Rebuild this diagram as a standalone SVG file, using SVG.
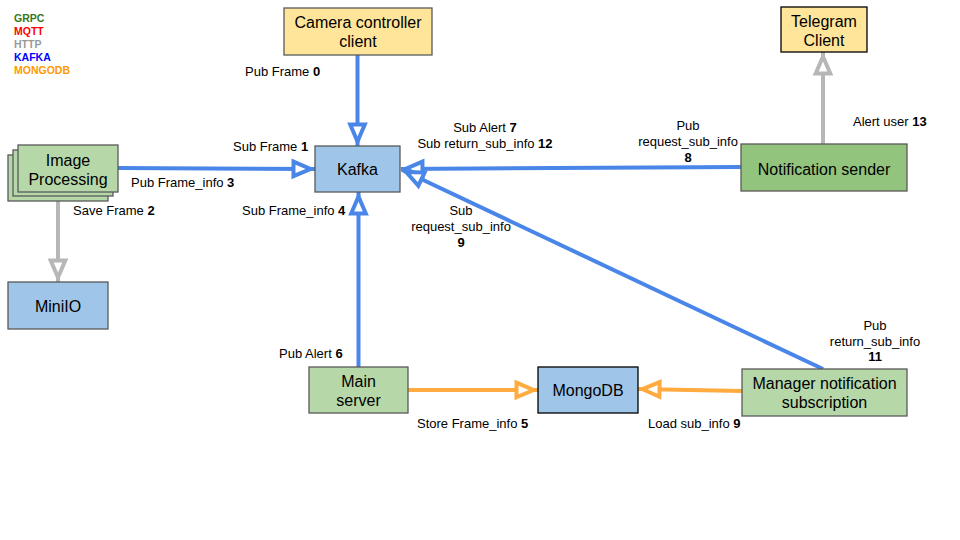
<svg xmlns="http://www.w3.org/2000/svg" width="960" height="540" viewBox="0 0 960 540">
<style>
text{font-family:"Liberation Sans",Arial,sans-serif}
.n{font-size:16px;text-anchor:middle;fill:#000}
.l{font-size:13px;fill:#000}
.c{text-anchor:middle}
.b{font-weight:bold}
.lg{font-size:10.5px;font-weight:bold}
.bx{stroke:#595959;stroke-width:1.3}
.blk{stroke:#000;stroke-width:1.3}
.y{fill:#ffe599}
.bl{fill:#9fc5e8}
.g{fill:#b6d7a8}
.g2{fill:#93c47d}
.k{fill:none;stroke:#4a86e8;stroke-width:4}
.h{fill:none;stroke:#b7b7b7;stroke-width:4}
.m{fill:none;stroke:#ffab40;stroke-width:4}
</style>
<defs>
<marker id="ak" markerUnits="userSpaceOnUse" orient="auto" refX="21.5" refY="0" markerWidth="30" markerHeight="30" overflow="visible"><path d="M0,-7.3 L17,0 L0,7.3 Z" fill="#fff" stroke="#4a86e8" stroke-width="4"/></marker>
<marker id="ah" markerUnits="userSpaceOnUse" orient="auto" refX="21.5" refY="0" markerWidth="30" markerHeight="30" overflow="visible"><path d="M0,-7.3 L17,0 L0,7.3 Z" fill="#fff" stroke="#b7b7b7" stroke-width="4"/></marker>
<marker id="am" markerUnits="userSpaceOnUse" orient="auto" refX="21.5" refY="0" markerWidth="30" markerHeight="30" overflow="visible"><path d="M0,-7.3 L17,0 L0,7.3 Z" fill="#fff" stroke="#ffab40" stroke-width="4"/></marker>
</defs>
<rect width="960" height="540" fill="#fff"/>

<g id="legend">
<text class="lg" x="14" y="21.5" fill="#38761d">GRPC</text>
<text class="lg" x="14" y="34.5" fill="#ff0000">MQTT</text>
<text class="lg" x="14" y="47.5" fill="#999999">HTTP</text>
<text class="lg" x="14" y="60.5" fill="#0000ff">KAFKA</text>
<text class="lg" x="14" y="73.5" fill="#ff9900">MONGODB</text>
</g>

<g id="connectors">
<path class="k" d="M357.5,55 L357.5,146" marker-end="url(#ak)"/>
<path class="k" d="M118,168 L315,169" marker-end="url(#ak)"/>
<path class="k" d="M358.5,367 L358.5,192" marker-end="url(#ak)"/>
<path class="k" d="M741,167 L401,169" marker-end="url(#ak)"/>
<path class="k" d="M823,369 L402,170" marker-end="url(#ak)"/>
<path class="h" d="M58,201 L58,282" marker-end="url(#ah)"/>
<path class="h" d="M823,144 L823,52" marker-end="url(#ah)"/>
<path class="m" d="M408,390 L538,390" marker-end="url(#am)"/>
<path class="m" d="M742,391 L638,389" marker-end="url(#am)"/>
</g>

<g id="camera">
<rect class="y bx" x="284" y="8" width="148" height="47"/>
<text class="n" x="358" y="28">Camera controller</text>
<text class="n" x="358" y="47">client</text>
</g>
<g id="telegram">
<rect class="y blk" x="781" y="7" width="86" height="45"/>
<text class="n" x="824" y="26.5">Telegram</text>
<text class="n" x="824" y="45.5">Client</text>
</g>
<g id="image-processing">
<rect class="g bx" x="8" y="155" width="100" height="46"/>
<rect class="g bx" x="13" y="150" width="100" height="46"/>
<rect class="g bx" x="18" y="145" width="100" height="47"/>
<text class="n" x="68" y="165.5">Image</text>
<text class="n" x="68" y="184.5">Processing</text>
</g>
<g id="minio">
<rect class="bl bx" x="8" y="282" width="100" height="47"/>
<text class="n" x="58" y="312">MiniIO</text>
</g>
<g id="kafka">
<rect class="bl bx" x="315" y="146" width="85" height="46"/>
<text class="n" x="357.5" y="175">Kafka</text>
</g>
<g id="notification-sender">
<rect class="g2 bx" x="741" y="144" width="166" height="47"/>
<text class="n" x="824" y="174.5">Notification sender</text>
</g>
<g id="main-server">
<rect class="g bx" x="309" y="367" width="99" height="46"/>
<text class="n" x="358.5" y="386.5">Main</text>
<text class="n" x="358.5" y="405.5">server</text>
</g>
<g id="mongodb">
<rect class="bl blk" x="538" y="367" width="100" height="46"/>
<text class="n" x="588" y="396">MongoDB</text>
</g>
<g id="manager">
<rect class="g bx" x="742" y="369" width="165" height="47"/>
<text class="n" x="824.5" y="389">Manager notification</text>
<text class="n" x="824.5" y="408">subscription</text>
</g>

<g id="labels">
<text class="l" x="245" y="76">Pub Frame <tspan class="b">0</tspan></text>
<text class="l" x="233" y="150.5">Sub Frame <tspan class="b">1</tspan></text>
<text class="l" x="131" y="187">Pub Frame_info <tspan class="b">3</tspan></text>
<text class="l" x="73" y="215">Save Frame <tspan class="b">2</tspan></text>
<text class="l" x="242" y="215">Sub Frame_info <tspan class="b">4</tspan></text>
<text class="l c" x="485" y="132">Sub Alert <tspan class="b">7</tspan></text>
<text class="l c" x="485" y="148">Sub return_sub_info <tspan class="b">12</tspan></text>
<text class="l c" x="688" y="130">Pub</text>
<text class="l c" x="688" y="146">request_sub_info</text>
<text class="l c b" x="688" y="161.5">8</text>
<text class="l c" x="461" y="215">Sub</text>
<text class="l c" x="461" y="231">request_sub_info</text>
<text class="l c b" x="461" y="246.5">9</text>
<text class="l" x="853" y="126">Alert user <tspan class="b">13</tspan></text>
<text class="l" x="279" y="358">Pub Alert <tspan class="b">6</tspan></text>
<text class="l" x="417" y="428">Store Frame_info <tspan class="b">5</tspan></text>
<text class="l" x="648" y="428">Load sub_info <tspan class="b">9</tspan></text>
<text class="l c" x="875" y="330">Pub</text>
<text class="l c" x="875" y="345.5">return_sub_info</text>
<text class="l c b" x="875" y="361">11</text>
</g>
</svg>
